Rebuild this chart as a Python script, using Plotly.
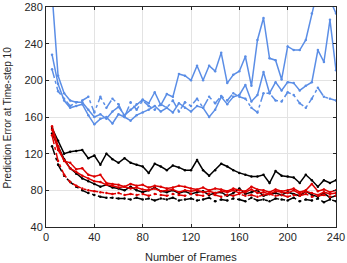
import plotly.graph_objects as go

frames = [5, 10, 15, 20, 25, 30, 35, 40, 45, 50, 55, 60, 65, 70, 75, 80, 85, 90, 95, 100,
          105, 110, 115, 120, 125, 130, 135, 140, 145, 150, 155, 160, 165, 170, 175, 180,
          185, 190, 195, 200, 205, 210, 215, 220, 225, 230, 235, 240]

blue_a = [295, 205, 186, 178, 176, 176, 168, 160, 163, 158, 166, 171, 162, 168, 174, 179,
          175, 187, 173, 185, 182, 207, 205, 200, 216, 200, 216, 210, 230, 197, 206, 210,
          226, 194, 244, 268, 224, 222, 201, 237, 233, 233, 244, 273, 300, 310, 288, 273]
blue_b = [228, 196, 178, 170, 172, 174, 162, 152, 158, 160, 153, 163, 160, 156, 162, 165,
          168, 172, 166, 170, 165, 175, 170, 166, 172, 170, 160, 168, 182, 174, 182, 184,
          195, 177, 184, 209, 186, 198, 189, 198, 197, 189, 194, 198, 233, 220, 266, 211]
blue_c = [212, 188, 180, 172, 176, 178, 182, 165, 182, 170, 180, 174, 160, 176, 168, 178,
          172, 168, 174, 170, 178, 166, 176, 172, 180, 170, 182, 175, 183, 178, 186, 182,
          180, 170, 165, 186, 186, 178, 177, 187, 184, 175, 170, 180, 192, 182, 180, 178]

black_d = [148, 134, 120, 122, 123, 124, 115, 118, 108, 120, 114, 110, 115, 110, 108, 106,
           99, 109, 106, 102, 107, 105, 102, 102, 113, 102, 96, 102, 109, 106, 102, 99,
           97, 95, 95, 97, 88, 101, 96, 95, 94, 88, 97, 91, 84, 91, 88, 91]
black_e = [142, 128, 114, 104, 98, 93, 90, 87, 84, 86, 83, 82, 80, 84, 80, 78,
           80, 83, 79, 78, 80, 77, 79, 76, 78, 79, 75, 77, 78, 74, 77, 82,
           76, 78, 80, 74, 76, 77, 75, 78, 76, 74, 79, 75, 73, 77, 72, 74]
black_f = [128, 108, 96, 89, 84, 80, 77, 75, 73, 72, 72, 71, 71, 70, 72, 70,
           71, 69, 71, 70, 72, 69, 70, 71, 69, 70, 72, 68, 70, 69, 71, 70,
           68, 72, 69, 70, 68, 71, 70, 69, 72, 68, 70, 69, 71, 67, 70, 68]

red_g = [150, 128, 112, 110, 103, 104, 97, 95, 97, 88, 87, 86, 84, 87, 85, 86,
         83, 85, 84, 82, 83, 85, 84, 82, 81, 83, 80, 82, 81, 79, 82, 80,
         79, 84, 81, 80, 78, 81, 79, 80, 82, 78, 80, 87, 79, 81, 78, 80]
red_h = [146, 124, 113, 104, 100, 96, 93, 90, 89, 86, 85, 83, 84, 82, 83, 81,
         80, 82, 79, 80, 81, 78, 80, 79, 80, 78, 79, 77, 79, 78, 80, 77,
         78, 81, 77, 78, 76, 79, 78, 77, 80, 76, 79, 77, 75, 78, 76, 77]
red_i = [140, 112, 97, 89, 85, 82, 80, 79, 78, 77, 76, 77, 75, 76, 75, 76,
         74, 76, 75, 74, 76, 75, 74, 76, 75, 74, 76, 75, 73, 75, 74, 76,
         74, 75, 73, 75, 76, 74, 75, 73, 75, 74, 76, 73, 74, 75, 73, 74]

x_ticks = [0, 40, 80, 120, 160, 200, 240]
y_ticks = [40, 80, 120, 160, 200, 240, 280]

BLUE = "#5b8ee6"
RED = "#dd0000"
BLACK = "#000000"
FONT = "Liberation Sans, Arial"

series = [
    (blue_a, BLUE, "solid"), (blue_b, BLUE, "solid"), (blue_c, BLUE, "dashdot"),
    (black_d, BLACK, "solid"), (black_e, BLACK, "solid"), (black_f, BLACK, "dashdot"),
    (red_g, RED, "solid"), (red_h, RED, "solid"), (red_i, RED, "dashdot"),
]

fig = go.Figure()
for vals, col, dash in series:
    fig.add_trace(go.Scatter(
        x=frames, y=vals, mode="lines+markers",
        line=dict(color=col, width=1.5, dash=dash),
        marker=dict(color=col, size=2.5),
        showlegend=False,
    ))

axis_common = dict(
    showgrid=True, gridcolor="#e3e3e3", gridwidth=1,
    showline=True, linecolor="#262626", linewidth=1, mirror="ticks",
    ticks="inside", ticklen=3, tickcolor="#262626",
    zeroline=False, automargin=False,
    tickfont=dict(family=FONT, size=11, color="#262626"),
)

fig.update_xaxes(range=[0, 240], tickvals=x_ticks, **axis_common)
fig.update_yaxes(range=[40, 280], tickvals=y_ticks, **axis_common)

fig.update_layout(
    width=347, height=263,
    margin=dict(l=46, r=11, t=7, b=36),
    paper_bgcolor="white", plot_bgcolor="white",
    hovermode=False,
    annotations=[
        dict(text="Number of Frames", xref="paper", yref="paper",
             x=0.5, y=-0.136, xanchor="center", yanchor="middle",
             showarrow=False, font=dict(family=FONT, size=11, color="#262626")),
        dict(text="Prediction Error at Time-step 10", xref="paper", yref="paper",
             x=-0.133, y=0.5, xanchor="center", yanchor="middle", textangle=-90,
             showarrow=False, font=dict(family=FONT, size=10, color="#262626")),
    ],
)

fig.write_html(
    "out.html",
    config={"displayModeBar": False, "staticPlot": True},
    post_script="document.body.style.margin='0';document.body.style.overflow='hidden';",
)
